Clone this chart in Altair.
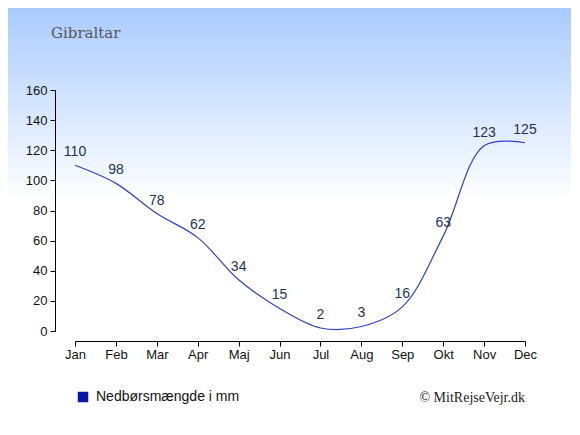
import altair as alt
import pandas as pd

months = ["Jan", "Feb", "Mar", "Apr", "Maj", "Jun", "Jul", "Aug", "Sep", "Okt", "Nov", "Dec"]
rain = [110, 98, 78, 62, 34, 15, 2, 3, 16, 63, 123, 125]
series_name = "Nedbørsmængde i mm"
title_text = "Gibraltar"
credit_text = "© MitRejseVejr.dk"

df = pd.DataFrame({"month": months, "rain": rain, "series": [series_name] * len(months)})

W, H = 450, 241
PL, PT = 67, 82
TOTW, TOTH = 563, 418
PR, PB = TOTW - PL - W, TOTH - PT - H

bg = alt.Chart(pd.DataFrame({"a": [0]})).mark_rect(
    color=alt.Gradient(
        gradient="linear",
        stops=[
            alt.GradientStop(color="#aacbff", offset=0),
            alt.GradientStop(color="#ffffff", offset=0.46),
            alt.GradientStop(color="#ffffff", offset=1),
        ],
        x1=0, x2=0, y1=0, y2=1,
    )
).encode(
    x=alt.value(-PL), x2=alt.value(W + PR),
    y=alt.value(-PT), y2=alt.value(H + PB),
)

xenc = alt.X(
    "month:O", sort=months, scale=alt.Scale(type="point", padding=0),
    axis=alt.Axis(title=None, labelAngle=0, offset=10, tickSize=5, labelPadding=2,
                  domainColor="#000", tickColor="#000", labelColor="#111",
                  labelFont="Liberation Sans", labelFontSize=13, grid=False, zindex=1),
)
yenc = alt.Y(
    "rain:Q", scale=alt.Scale(domain=[0, 160], nice=False),
    axis=alt.Axis(title=None, values=list(range(0, 161, 20)), offset=20, tickSize=5,
                  labelPadding=3, domainColor="#000", tickColor="#000", labelColor="#111",
                  labelFont="Liberation Sans", labelFontSize=13, grid=False, zindex=1),
)

line = alt.Chart(df).mark_line(interpolate="catmull-rom", strokeWidth=1.2, color="#3040c8").encode(
    x=xenc, y=yenc,
)

legend_layer = alt.Chart(df).mark_square(size=0, opacity=1).encode(
    x=xenc, y=yenc,
    fill=alt.Fill(
        "series:N",
        scale=alt.Scale(domain=[series_name], range=["#0a16a8"]),
        legend=alt.Legend(
            title=None, orient="none", legendX=1, legendY=300,
            symbolType="square", symbolSize=110, labelFont="Liberation Sans",
            labelFontSize=14, labelColor="#111", labelOffset=6,
            symbolOpacity=1, symbolStrokeWidth=0,
        ),
    ),
)

labels = alt.Chart(df).mark_text(
    dy=-9, fontSize=14, font="Liberation Sans", color="#1c3358", baseline="alphabetic"
).encode(x=xenc, y=yenc, text="rain:Q")

title = alt.Chart(pd.DataFrame({"t": [title_text]})).mark_text(
    align="left", baseline="middle", font="DejaVu Serif", fontSize=15, color="#555555"
).encode(x=alt.value(-24), y=alt.value(-57), text="t:N")

credit = alt.Chart(pd.DataFrame({"t": [credit_text]})).mark_text(
    align="right", baseline="middle", font="Liberation Serif", fontSize=14, color="#222222"
).encode(x=alt.value(W), y=alt.value(308), text="t:N")

chart = alt.layer(bg, line, legend_layer, labels, title, credit).properties(
    width=W, height=H,
    padding={"left": PL, "top": PT, "right": PR, "bottom": PB},
    autosize=alt.AutoSizeParams(type="none"),
).configure_view(stroke=None)

chart.save("out.html", embed_options={"renderer": "svg", "actions": False})
